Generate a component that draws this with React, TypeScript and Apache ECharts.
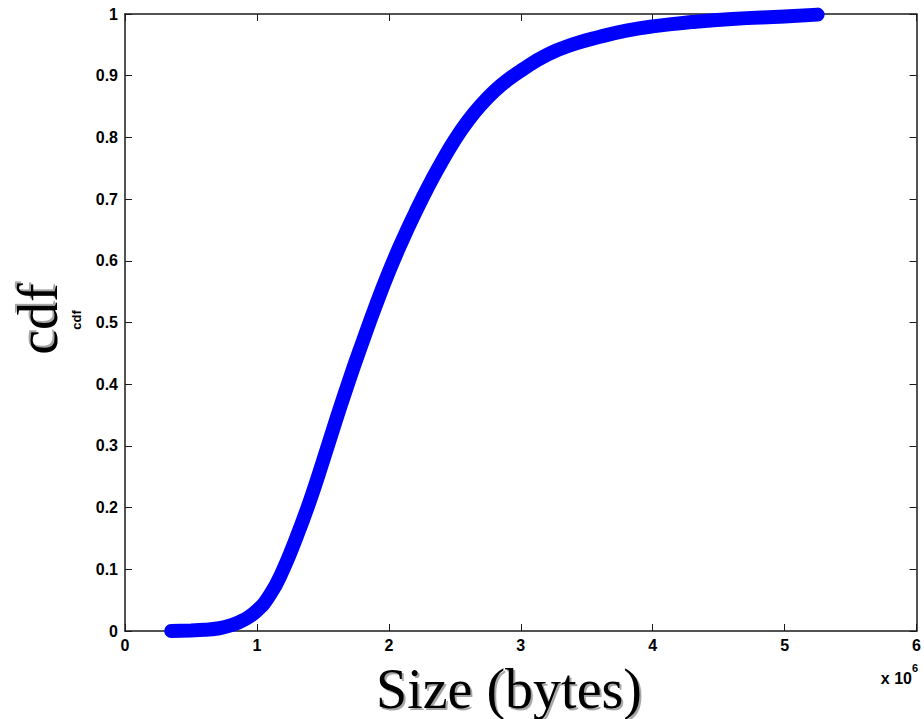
import React, { useEffect, useRef } from "react";
import * as echarts from "echarts";

const sizeMillions: number[] = [0.35, 0.5, 0.6, 0.7, 0.8, 0.9, 1.0, 1.1, 1.2, 1.3, 1.4, 1.5, 1.6, 1.7, 1.8, 1.9, 2.0, 2.1, 2.2, 2.3, 2.4, 2.5, 2.6, 2.7, 2.8, 2.9, 3.0, 3.2, 3.4, 3.6, 3.8, 4.0, 4.3, 4.6, 5.0, 5.25];
const cdfValues: number[] = [0.0, 0.001, 0.002, 0.004, 0.009, 0.018, 0.033, 0.059, 0.1, 0.152, 0.21, 0.275, 0.342, 0.407, 0.468, 0.527, 0.582, 0.632, 0.678, 0.721, 0.76, 0.796, 0.827, 0.853, 0.875, 0.893, 0.908, 0.934, 0.951, 0.963, 0.973, 0.98, 0.987, 0.992, 0.996, 0.999];

const xTicks = { min: 0, max: 6, interval: 1 };
const yTicks = { min: 0, max: 1, interval: 0.1 };

export default function App() {
  const ref = useRef<HTMLDivElement>(null);
  useEffect(() => {
    if (!ref.current) return;
    const chart = echarts.init(ref.current, null, { renderer: "svg" });
    const data = sizeMillions.map((x, i) => [x, cdfValues[i]]);
    const axisLine = { show: true, onZero: false, lineStyle: { color: "#1a1a1a", width: 1.5 } };
    const tick = { show: true, inside: true, length: 7, lineStyle: { color: "#1a1a1a", width: 1 } };
    const label = { fontFamily: "'Liberation Sans', Arial, sans-serif", fontWeight: "bold" as const, fontSize: 16, color: "#000" };
    chart.setOption({
      animation: false,
      backgroundColor: "#fff",
      grid: { left: 125, right: 4, top: 14, bottom: 88 },
      xAxis: [
        {
          type: "value", ...xTicks, position: "bottom",
          axisLine, axisTick: tick, splitLine: { show: false },
          axisLabel: { ...label, margin: 6, formatter: (v: number) => String(Math.round(v)) },
        },
        {
          type: "value", ...xTicks, position: "top",
          axisLine, axisTick: tick, splitLine: { show: false }, axisLabel: { show: false },
        },
      ],
      yAxis: [
        {
          type: "value", ...yTicks, position: "left",
          axisLine, axisTick: tick, splitLine: { show: false },
          axisLabel: { ...label, margin: 7, formatter: (v: number) => String(Math.round(v * 10) / 10) },
        },
        {
          type: "value", ...yTicks, position: "right",
          axisLine, axisTick: tick, splitLine: { show: false }, axisLabel: { show: false },
        },
      ],
      series: [
        {
          type: "line",
          data,
          smooth: 0.5,
          showSymbol: false,
          symbol: "none",
          lineStyle: { color: "#0000ff", width: 14, cap: "round", join: "round" },
          z: 3,
        },
      ],
      graphic: [
        {
          type: "text", x: 38, y: 319, rotation: Math.PI / 2,
          style: {
            text: "cdf", fontFamily: "'Liberation Serif', 'Times New Roman', serif", fontSize: 56,
            fill: "#000", align: "center", verticalAlign: "middle",
            textShadowColor: "rgba(0,0,0,0.35)", textShadowOffsetX: 2, textShadowOffsetY: -2, textShadowBlur: 1,
          },
        },
        {
          type: "text", x: 76, y: 320, rotation: Math.PI / 2,
          style: {
            text: "cdf", fontFamily: "'Liberation Sans', Arial, sans-serif", fontWeight: "bold", fontSize: 13,
            fill: "#000", align: "center", verticalAlign: "middle",
          },
        },
        {
          type: "text", x: 509, y: 689,
          style: {
            text: "Size (bytes)", fontFamily: "'Liberation Serif', 'Times New Roman', serif", fontSize: 56,
            fill: "#000", align: "center", verticalAlign: "middle",
            textShadowColor: "rgba(0,0,0,0.35)", textShadowOffsetX: 2, textShadowOffsetY: 2, textShadowBlur: 1,
          },
        },
        {
          type: "text", x: 912, y: 678,
          style: {
            text: "x 10", fontFamily: "'Liberation Sans', Arial, sans-serif", fontWeight: "bold", fontSize: 16,
            fill: "#000", align: "right", verticalAlign: "middle",
          },
        },
        {
          type: "text", x: 912, y: 668,
          style: {
            text: "6", fontFamily: "'Liberation Sans', Arial, sans-serif", fontWeight: "bold", fontSize: 11,
            fill: "#000", align: "left", verticalAlign: "middle",
          },
        },
      ],
    });
    return () => chart.dispose();
  }, []);
  return <div ref={ref} style={{ position: "fixed", left: 0, top: 0, width: 924, height: 719, background: "#fff" }} />;
}
